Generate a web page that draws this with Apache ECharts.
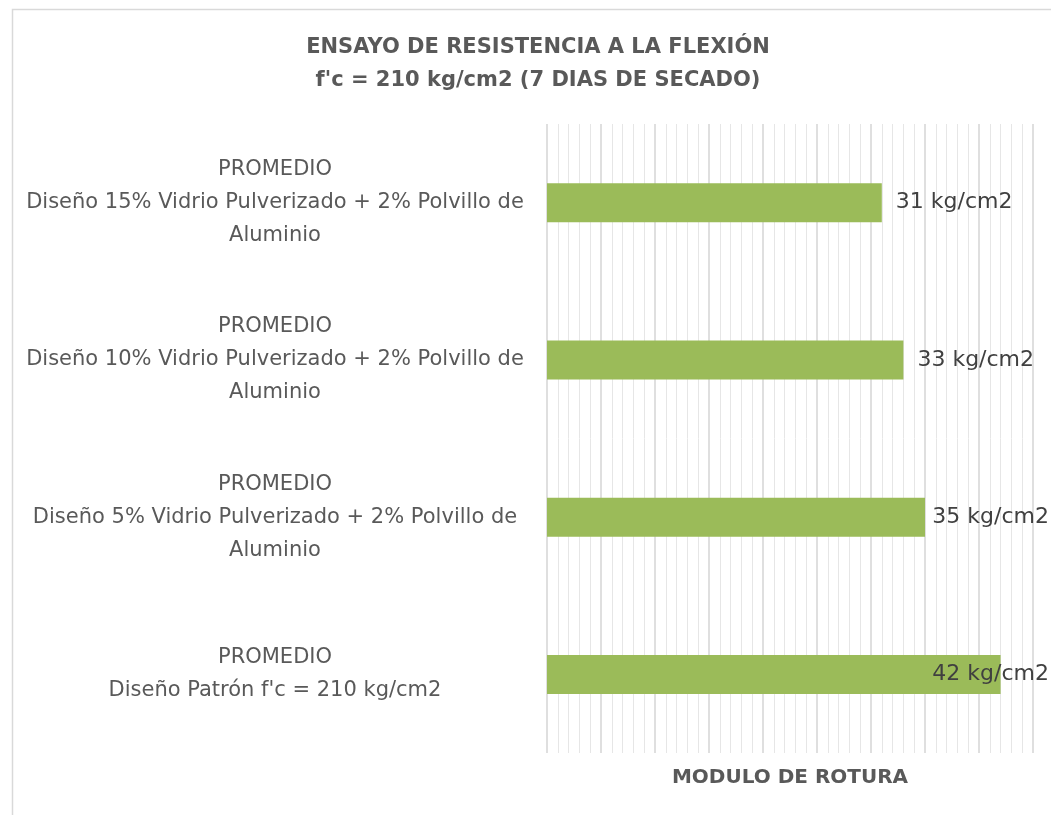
<!DOCTYPE html>
<html>
<head>
<meta charset="utf-8">
<script src="https://cdn.jsdelivr.net/npm/echarts@6/dist/echarts.min.js"></script>
<style>
html,body{margin:0;padding:0;background:#fff;}
#c{width:1051px;height:815px;}
</style>
</head>
<body>
<div id="c"></div>
<script>
const categories = [
  "PROMEDIO\nDiseño Patrón f'c = 210 kg/cm2",
  "PROMEDIO\nDiseño 5% Vidrio Pulverizado + 2% Polvillo de\nAluminio",
  "PROMEDIO\nDiseño 10% Vidrio Pulverizado + 2% Polvillo de\nAluminio",
  "PROMEDIO\nDiseño 15% Vidrio Pulverizado + 2% Polvillo de\nAluminio"
];
const values = [42, 35, 33, 31];
const unit = " kg/cm2";
const titleText = "ENSAYO DE RESISTENCIA A LA FLEXIÓN\nf'c = 210 kg/cm2 (7 DIAS DE SECADO)";
const axisTitle = "MODULO DE ROTURA";

const chart = echarts.init(document.getElementById('c'), null, {renderer: 'canvas'});
const FONT = '"DejaVu Sans", sans-serif';
chart.setOption({
  backgroundColor: '#ffffff',
  animation: false,
  graphic: [{
    type: 'rect', left: 10, top: 7,
    shape: {width: 1100, height: 900},
    style: {fill: 'none', stroke: '#d9d9d9', lineWidth: 1.5},
    z: -1
  }],
  title: {
    text: titleText,
    left: 533, top: 26, textAlign: 'center',
    textStyle: {fontFamily: FONT, fontWeight: 'bold', fontSize: 21, color: '#595959', lineHeight: 33}
  },
  grid: {left: 547, right: 18, top: 124, bottom: 62, containLabel: false},
  xAxis: {
    type: 'value', min: 0, max: 45, interval: 5,
    name: axisTitle, nameLocation: 'middle', nameGap: 15,
    nameTextStyle: {fontFamily: FONT, fontWeight: 'bold', fontSize: 20, color: '#595959'},
    axisLabel: {show: false},
    axisLine: {show: false},
    axisTick: {show: false},
    splitLine: {show: true, lineStyle: {color: '#d4d4d4', width: 1.5}},
    minorTick: {show: false, splitNumber: 5},
    minorSplitLine: {show: true, lineStyle: {color: '#e6e6e6', width: 1}}
  },
  yAxis: {
    type: 'category', data: categories,
    axisLine: {show: false}, axisTick: {show: false},
    axisLabel: {
      fontFamily: FONT, fontSize: 21, color: '#595959', lineHeight: 33,
      align: 'center', margin: 272
    }
  },
  series: [{
    type: 'bar', data: values, barWidth: 39,
    itemStyle: {color: '#9BBB59'},
    label: {
      show: true, position: 'right', distance: 14,
      formatter: p => p.value + unit,
      fontFamily: FONT, fontSize: 22, color: '#404040'
    },
    labelLayout: function (params) {
      const r = params.labelRect;
      const limit = 1049;
      if (r.x + r.width > limit) {
        return {x: limit - r.width, y: r.y + r.height / 2, align: 'left', verticalAlign: 'middle'};
      }
      return {};
    }
  }]
});
</script>
</body>
</html>
